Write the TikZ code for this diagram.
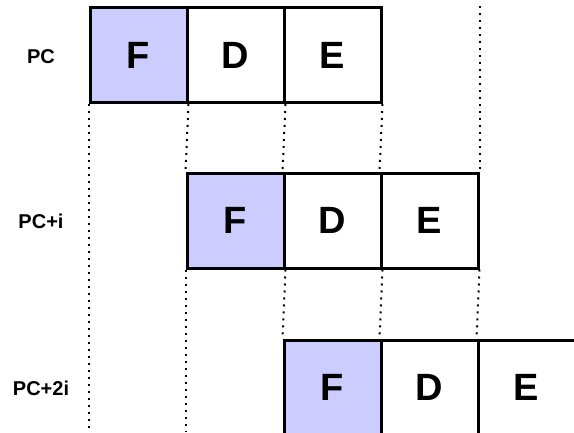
\documentclass[tikz,border=0pt]{standalone}
\usepackage{fontspec}
\setmainfont{Liberation Sans}
\definecolor{fetchc}{RGB}{204,204,255}
\begin{document}
\begin{tikzpicture}[x=1pt,y=-1pt,
  stage/.style={draw=black, line width=3pt, minimum width=97pt, minimum height=95pt, inner sep=0pt, font=\fontsize{38}{40}\selectfont\bfseries},
  fetch/.style={stage, fill=fetchc},
  rowlabel/.style={font=\fontsize{20}{22}\selectfont\bfseries},
  guide/.style={line width=2pt, dash pattern=on 2pt off 5pt}]
\useasboundingbox (0,0) rectangle (574,432);
\clip (0,0) rectangle (574,432);
\coordinate (bot) at (0,432);
% row 1
\node[fetch] (f1) at (138.5,55) {F};
\node[stage] (d1) at (235.5,55) {D};
\node[stage] (e1) at (332.5,55) {E};
% row 2
\node[fetch] (f2) at (235.5,220.5) {F};
\node[stage] (d2) at (332.5,220.5) {D};
\node[stage] (e2) at (429.5,220.5) {E};
% row 3
\node[fetch] (f3) at (332.5,387.5) {F};
\node[stage] (d3) at (429.5,387.5) {D};
\node[stage, minimum width=101pt] (e3) at (528.5,387.5) {\hspace*{-4pt}E};
% labels
\node[rowlabel] (l1) at (41,57) {PC};
\node[rowlabel] (l2) at (41,221) {PC+i};
\node[rowlabel] (l3) at (41,388) {PC+2i};
% guides
\draw[guide] (f1.south west) -- (f1.south west |- bot);
\draw[guide] (f1.south east) -- (f2.north west);
\draw[guide] (f2.south west) -- (f2.south west |- bot);
\draw[guide] (d1.south east) -- (d2.north west);
\draw[guide] (f2.south east) -- (f3.north west);
\draw[guide] (e1.south east) -- (e2.north west);
\draw[guide] (d2.south east) -- (d3.north west);
\draw[guide] (e2.north east |- e1.north) -- (e2.north east);
\draw[guide] (e2.south east) -- (e3.north west);
\end{tikzpicture}
\end{document}
